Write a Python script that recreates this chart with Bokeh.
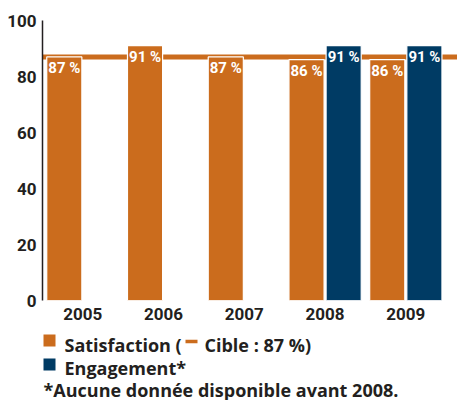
from bokeh.plotting import figure
from bokeh.models import ColumnDataSource, Range1d, FixedTicker, Span
from bokeh.layouts import column
from bokeh.transform import dodge
from bokeh.core.properties import value
from bokeh.embed import file_html
from bokeh.resources import INLINE

# ---- data ----
years = ["2005", "2006", "2007", "2008", "2009"]
satisfaction = [87, 91, 87, 86, 86]
engagement_years = ["2008", "2009"]
engagement = [91, 91]
target = 87
y_ticks = [0, 20, 40, 60, 80, 100]
legend_sat_a = "Satisfaction ("
legend_sat_b = "Cible : 87 %)"
legend_eng = "Engagement*"
footnote = "*Aucune donnée disponible avant 2008."

ORANGE = "#CB6C1D"
BLUE = "#003B64"
DARK = "#231F20"
NUM = "Roboto"
SANS = "Open Sans"

sat_src = ColumnDataSource(dict(
    x=list(range(len(years))),
    v=satisfaction,
    lab=[f"{v} %" for v in satisfaction],
))
eng_src = ColumnDataSource(dict(
    x=[years.index(y) for y in engagement_years],
    v=engagement,
    lab=[f"{v} %" for v in engagement],
))

W = 457
H1 = 328
p = figure(width=W, height=H1,
           x_range=Range1d(-0.5, 4.64), y_range=Range1d(0, 100),
           output_backend="svg", toolbar_location=None,
           min_border_left=42, min_border_right=0,
           min_border_top=20, min_border_bottom=H1 - 300)
p.outline_line_color = None
p.grid.visible = False

p.add_layout(Span(location=target, dimension="width", line_color=ORANGE,
                  line_width=5, level="underlay"))

p.vbar(x=dodge("x", -0.23, range=p.x_range), top="v", width=0.435,
       fill_color=ORANGE, line_color="white", line_width=1.2, source=sat_src)
p.vbar(x=dodge("x", 0.23, range=p.x_range), top="v", width=0.435,
       fill_color=BLUE, line_color="white", line_width=1.2, source=eng_src)

for src, off in ((sat_src, -0.23), (eng_src, 0.23)):
    p.text(x=dodge("x", off, range=p.x_range), y="v", text="lab",
           text_align="center", text_baseline="top", y_offset=2,
           text_color="white", text_font=value(NUM),
           text_font_style="bold", text_font_size="15px", source=src)

p.yaxis.ticker = FixedTicker(ticks=y_ticks)
p.yaxis.axis_line_color = DARK
p.yaxis.axis_line_width = 1.5
p.yaxis.major_tick_line_color = None
p.yaxis.minor_tick_line_color = None
p.yaxis.major_tick_out = 0
p.yaxis.major_label_standoff = 6
p.yaxis.major_label_text_font = NUM
p.yaxis.major_label_text_font_style = "bold"
p.yaxis.major_label_text_font_size = "17px"
p.yaxis.major_label_text_color = DARK

p.xaxis.ticker = FixedTicker(ticks=list(range(len(years))))
p.xaxis.major_label_overrides = {i: y for i, y in enumerate(years)}
p.xaxis.axis_line_color = None
p.xaxis.major_tick_line_color = None
p.xaxis.minor_tick_line_color = None
p.xaxis.major_tick_out = 0
p.xaxis.major_label_standoff = 7
p.xaxis.major_label_text_font = NUM
p.xaxis.major_label_text_font_style = "bold"
p.xaxis.major_label_text_font_size = "17px"
p.xaxis.major_label_text_color = DARK

# ---- legend panel (frame aligned with the chart's frame: x in page px) ----
H2 = 400 - H1
leg = figure(width=W, height=H2, x_range=Range1d(42, W), y_range=Range1d(400, H1),
             x_axis_type=None, y_axis_type=None, output_backend="svg",
             toolbar_location=None, min_border=0)
leg.min_border_left = 42
leg.outline_line_color = None
leg.grid.visible = False

leg.rect(x=[49, 49], y=[340, 364], width=12, height=12,
         fill_color=[ORANGE, BLUE], line_color=None)
leg.segment(x0=[185], y0=[341], x1=[197], y1=[341], line_color=ORANGE, line_width=3.5)
txt = dict(text_font=value(SANS), text_font_style="bold", text_font_size="18px",
           text_color=DARK, text_baseline="alphabetic", text_align="left")
leg.text(x=[64, 204, 64, 43], y=[344, 344, 367, 389],
         text=[legend_sat_a, legend_sat_b, legend_eng, footnote], **txt)

layout = column(p, leg, spacing=0)
open("out.html", "w").write(file_html(layout, INLINE))
